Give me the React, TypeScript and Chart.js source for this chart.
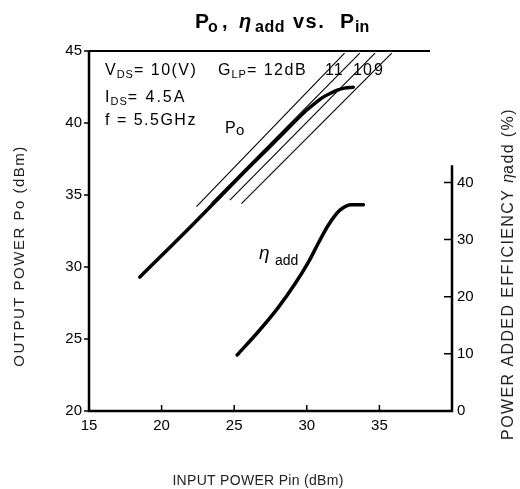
import React, { useEffect, useRef } from 'react';
import { Chart, registerables } from 'chart.js';

Chart.register(...registerables);

// ---- data ----
const xTicks = [15, 20, 25, 30, 35];
const yTicks = [20, 25, 30, 35, 40, 45];
const effTicks = [0, 10, 20, 30, 40];

// Output power Po (dBm) vs input power Pin (dBm)
const poPin = [18.5, 20, 22, 24, 26, 28, 30, 30.6, 31.1, 31.6, 32.1, 32.6, 33.2];
const poOut = [29.3, 30.8, 32.8, 34.85, 36.9, 38.9, 40.9, 41.4, 41.78, 42.05, 42.28, 42.42, 42.48];

// Power added efficiency (%) vs Pin (dBm)
const effPin = [25.2, 26.7, 28.0, 29.2, 30.1, 30.8, 31.5, 32.3, 33.1, 33.9];
const effVal = [9.8, 14.0, 18.0, 22.3, 26.0, 29.4, 32.6, 35.2, 36.1, 36.1];

// Constant linear-gain reference lines (GLP = 12, 11, 10, 9 dB)
const gainLabels = ['12dB', '11', '10', '9'];
const gainPinStart = [22.4, 23.4, 24.7, 25.5];
const gainPoStart = [34.2, 34.4, 34.65, 34.4];
const gainPinEnd = [32.6, 33.65, 34.7, 35.85];
const gainPoEnd = [44.85, 44.85, 44.85, 44.85];

const FAMILY = '"Liberation Sans", Arial, Helvetica, sans-serif';

type Part = { t: string; size: number; dy?: number; italic?: boolean; bold?: boolean; ls?: number };

function setFont(ctx: CanvasRenderingContext2D, p: Part) {
  ctx.font = `${p.italic ? 'italic ' : ''}${p.bold ? 'bold ' : ''}${p.size}px ${FAMILY}`;
  (ctx as any).letterSpacing = `${p.ls ?? 0}px`;
}

function partsWidth(ctx: CanvasRenderingContext2D, parts: Part[]) {
  let w = 0;
  for (const p of parts) {
    setFont(ctx, p);
    w += ctx.measureText(p.t).width;
  }
  return w;
}

function drawParts(ctx: CanvasRenderingContext2D, x: number, y: number, parts: Part[]) {
  let cx = x;
  for (const p of parts) {
    setFont(ctx, p);
    ctx.fillText(p.t, cx, y + (p.dy ?? 0));
    cx += ctx.measureText(p.t).width;
  }
  return cx;
}

const decor = {
  id: 'decor',
  afterDraw(chart: any) {
    const { ctx, chartArea: ca, scales } = chart;
    const xs = scales.x;
    const ys = scales.y;
    const y2 = scales.y2;
    ctx.save();
    ctx.strokeStyle = '#000';
    ctx.fillStyle = '#000';

    // axis frame
    ctx.lineWidth = 2.5;
    ctx.beginPath();
    ctx.moveTo(ca.left, ca.top);
    ctx.lineTo(ca.left, ca.bottom);
    ctx.lineTo(ca.right, ca.bottom);
    ctx.lineTo(ca.right, y2.getPixelForValue(43));
    ctx.stroke();
    ctx.lineWidth = 2;
    ctx.beginPath();
    ctx.moveTo(ca.left, ca.top);
    ctx.lineTo(ca.right - 22, ca.top);
    ctx.stroke();

    // tick marks
    ctx.lineWidth = 1.5;
    ctx.beginPath();
    for (const v of yTicks) {
      const py = ys.getPixelForValue(v);
      ctx.moveTo(ca.left - 5, py);
      ctx.lineTo(ca.left, py);
    }
    for (const v of xTicks) {
      const px = xs.getPixelForValue(v);
      ctx.moveTo(px, ca.bottom);
      ctx.lineTo(px, ca.bottom - 6);
    }
    for (const v of effTicks) {
      const py = y2.getPixelForValue(v);
      ctx.moveTo(ca.right - 8, py);
      ctx.lineTo(ca.right, py);
    }
    ctx.stroke();

    ctx.textBaseline = 'alphabetic';
    ctx.textAlign = 'left';

    // title
    ctx.fillStyle = '#000';
    drawParts(ctx, 195, 28, [{ t: 'P', size: 21, bold: true }]);
    drawParts(ctx, 208, 32, [{ t: 'o', size: 16, bold: true }]);
    drawParts(ctx, 222, 28, [{ t: ',', size: 20, bold: true }]);
    drawParts(ctx, 239, 28, [{ t: 'η', size: 20, bold: true, italic: true }]);
    drawParts(ctx, 255, 32, [{ t: 'add', size: 16, bold: true, ls: 0.5 }]);
    drawParts(ctx, 293, 28, [{ t: 'vs.', size: 20, bold: true, ls: 1.5 }]);
    drawParts(ctx, 340, 28, [{ t: 'P', size: 21, bold: true }]);
    drawParts(ctx, 355, 32, [{ t: 'in', size: 16, bold: true }]);

    // conditions
    drawParts(ctx, 105, 75, [
      { t: 'V', size: 16, ls: 1 },
      { t: 'DS', size: 11, dy: 3, ls: 1 },
      { t: '= 10(V)', size: 16, ls: 1.5 },
    ]);
    drawParts(ctx, 218, 75, [
      { t: 'G', size: 16, ls: 1 },
      { t: 'LP', size: 11, dy: 3, ls: 1 },
      { t: '= 12dB', size: 16, ls: 1.5 },
    ]);
    drawParts(ctx, 325, 75, [{ t: gainLabels[1], size: 16, ls: 1 }]);
    drawParts(ctx, 353, 75, [{ t: gainLabels[2], size: 16, ls: 1 }]);
    drawParts(ctx, 374, 75, [{ t: gainLabels[3], size: 16 }]);
    drawParts(ctx, 105, 102, [
      { t: 'I', size: 16, ls: 1 },
      { t: 'DS', size: 11, dy: 3, ls: 1 },
      { t: '= 4.5A', size: 16, ls: 2 },
    ]);
    drawParts(ctx, 105, 125, [{ t: 'f = 5.5GHz', size: 16, ls: 1.5 }]);

    // curve labels
    drawParts(ctx, 225, 133, [{ t: 'P', size: 16 }]);
    drawParts(ctx, 236, 135, [{ t: 'o', size: 15 }]);
    drawParts(ctx, 259, 259, [{ t: 'η', size: 19, italic: true }]);
    drawParts(ctx, 275, 265, [{ t: 'add', size: 14 }]);

    // axis titles
    ctx.fillStyle = '#222';
    const bottomT: Part[] = [{ t: 'INPUT POWER Pin (dBm)', size: 14, ls: 0.3 }];
    ctx.textBaseline = 'middle';
    drawParts(ctx, 258 - partsWidth(ctx, bottomT) / 2, 481, bottomT);

    const leftT: Part[] = [{ t: 'OUTPUT POWER Po (dBm)', size: 15, ls: 1.5 }];
    ctx.save();
    ctx.translate(20, 256);
    ctx.rotate(-Math.PI / 2);
    drawParts(ctx, -partsWidth(ctx, leftT) / 2, 0, leftT);
    ctx.restore();

    const rightT: Part[] = [
      { t: 'POWER ADDED EFFICIENCY ', size: 16, ls: 1.4 },
      { t: 'η', size: 16, italic: true },
      { t: 'add (%)', size: 16, ls: 1.4 },
    ];
    ctx.save();
    ctx.translate(509, 274);
    ctx.rotate(-Math.PI / 2);
    drawParts(ctx, -partsWidth(ctx, rightT) / 2, 0, rightT);
    ctx.restore();

    ctx.restore();
  },
};

export default function App() {
  const ref = useRef<HTMLCanvasElement>(null);

  useEffect(() => {
    const tickFont = { family: FAMILY, size: 15 };
    const datasets: any[] = [
      {
        label: 'Po',
        data: poPin.map((p, i) => ({ x: p, y: poOut[i] })),
        yAxisID: 'y',
        borderColor: '#000',
        borderWidth: 3.5,
        pointRadius: 0,
        cubicInterpolationMode: 'monotone',
        borderCapStyle: 'round',
      },
      {
        label: 'eta add',
        data: effPin.map((p, i) => ({ x: p, y: effVal[i] })),
        yAxisID: 'y2',
        borderColor: '#000',
        borderWidth: 3.5,
        pointRadius: 0,
        cubicInterpolationMode: 'monotone',
        borderCapStyle: 'round',
      },
      ...gainLabels.map((g, i) => ({
        label: 'GLP ' + g,
        data: [
          { x: gainPinStart[i], y: gainPoStart[i] },
          { x: gainPinEnd[i], y: gainPoEnd[i] },
        ],
        yAxisID: 'y',
        borderColor: '#000',
        borderWidth: 1.1,
        pointRadius: 0,
        tension: 0,
      })),
    ];

    const chart = new Chart(ref.current as HTMLCanvasElement, {
      type: 'line',
      data: { datasets },
      options: {
        responsive: false,
        animation: false,
        layout: { padding: { top: 51, left: 0, right: 0, bottom: 0 } },
        plugins: {
          legend: { display: false },
          tooltip: { enabled: false },
          title: { display: false },
        },
        scales: {
          x: {
            type: 'linear',
            min: 15,
            max: 40,
            afterBuildTicks: (s: any) => {
              s.ticks = xTicks.map((v) => ({ value: v }));
            },
            afterFit: (s: any) => {
              s.height = 78;
            },
            grid: { display: false, drawTicks: false },
            border: { display: false },
            ticks: { padding: 6, font: tickFont, color: '#000', maxRotation: 0, autoSkip: false },
          },
          y: {
            type: 'linear',
            position: 'left',
            min: 20,
            max: 45,
            afterBuildTicks: (s: any) => {
              s.ticks = yTicks.map((v) => ({ value: v }));
            },
            afterFit: (s: any) => {
              s.width = 89;
            },
            grid: { display: false, drawTicks: false },
            border: { display: false },
            ticks: { padding: 7, font: tickFont, color: '#000', autoSkip: false },
          },
          y2: {
            type: 'linear',
            position: 'right',
            min: 0,
            max: 63,
            afterBuildTicks: (s: any) => {
              s.ticks = effTicks.map((v) => ({ value: v }));
            },
            afterFit: (s: any) => {
              s.width = 68;
            },
            grid: { display: false, drawTicks: false },
            border: { display: false },
            ticks: { padding: 5, font: tickFont, color: '#000', autoSkip: false },
          },
        },
      } as any,
      plugins: [decor],
    });
    return () => chart.destroy();
  }, []);

  return (
    <div style={{ position: 'absolute', left: 0, top: 0, width: 520, height: 489, background: '#fff' }}>
      <canvas ref={ref} width={520} height={489} style={{ display: 'block' }} />
    </div>
  );
}
